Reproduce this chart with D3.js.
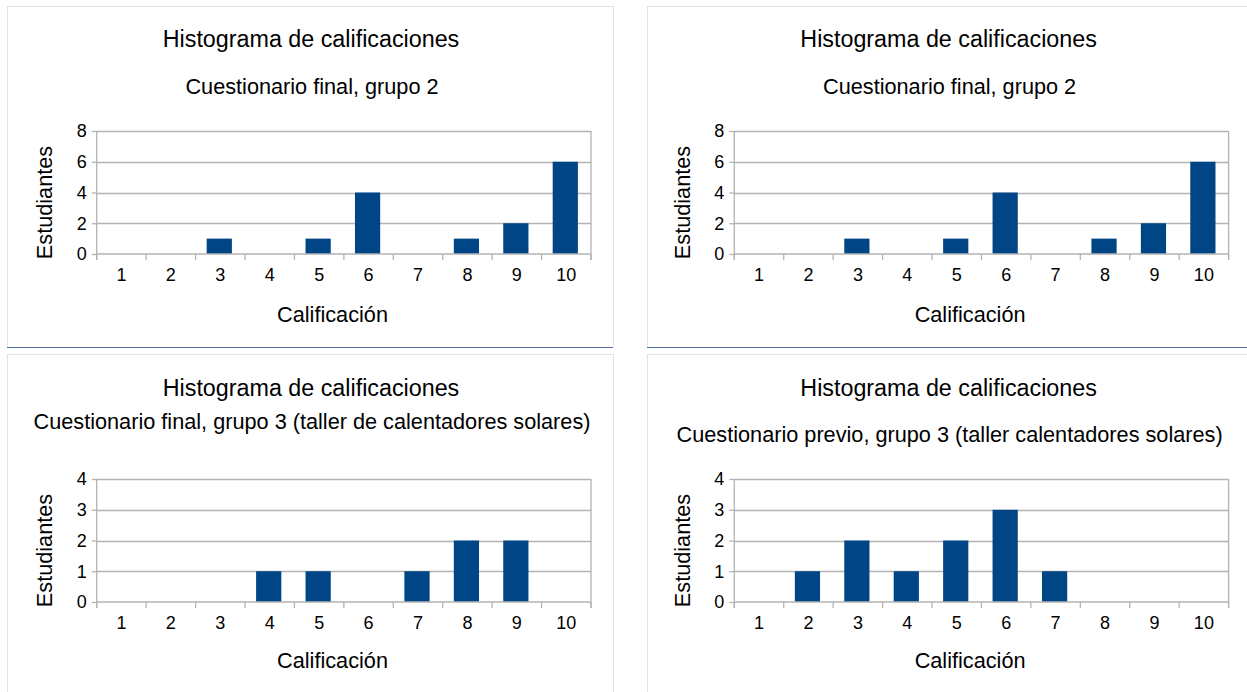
<!DOCTYPE html>
<html>
<head>
<meta charset="utf-8">
<script src="https://cdn.jsdelivr.net/npm/d3@7"></script>
<style>
  html, body { margin: 0; padding: 0; background: #ffffff; }
  svg { display: block; }
  text { font-family: "Liberation Sans", Arial, sans-serif; fill: #000; }
</style>
</head>
<body>
<svg id="chart" width="1247" height="692"></svg>
<script>
// ---- data ----
const categories = ["1","2","3","4","5","6","7","8","9","10"];
const titleText = "Histograma de calificaciones";
const xAxisTitle = "Calificación";
const yAxisTitle = "Estudiantes";

const subtitles = [
  "Cuestionario final, grupo 2",
  "Cuestionario final, grupo 2",
  "Cuestionario final, grupo 3 (taller de calentadores solares)",
  "Cuestionario previo, grupo 3 (taller calentadores solares)"
];

const valuesFinalG2 = [0, 0, 1, 0, 1, 4, 0, 1, 2, 6];
const valuesFinalG3 = [0, 0, 0, 1, 1, 0, 1, 2, 2, 0];
const valuesPrevioG3 = [0, 1, 2, 1, 2, 3, 1, 0, 0, 0];

const yTicksG2 = [0, 2, 4, 6, 8];
const yTicksG3 = [0, 1, 2, 3, 4];

// ---- layout ----
const svg = d3.select("#chart");
const barColor = "#004586";
const gridColor = "#b3b3b3";

const panels = [
  { values: valuesFinalG2, ticks: yTicksG2, sub: subtitles[0], ox: 0,     top: 131, bottom: 254, titleY: 47,  subY: 94,  xtY: 322 },
  { values: valuesFinalG2, ticks: yTicksG2, sub: subtitles[1], ox: 637.6, top: 131, bottom: 254, titleY: 47,  subY: 94,  xtY: 322 },
  { values: valuesFinalG3, ticks: yTicksG3, sub: subtitles[2], ox: 0,     top: 479, bottom: 602, titleY: 396, subY: 429, xtY: 668 },
  { values: valuesPrevioG3, ticks: yTicksG3, sub: subtitles[3], ox: 637.6, top: 479, bottom: 602, titleY: 396, subY: 442, xtY: 668 }
];

// panel frames
const frame = svg.append("g");
const light = "#dfe4ea", blue = "#4d6e9e";
function line(x1, y1, x2, y2, c, w) {
  frame.append("line").attr("x1", x1).attr("y1", y1).attr("x2", x2).attr("y2", y2)
    .attr("stroke", c).attr("stroke-width", w || 1);
}
// top-left
line(7, 6.5, 613, 6.5, light); line(7.5, 6, 7.5, 347, light); line(613.5, 6, 613.5, 347, light);
line(7, 347.5, 613, 347.5, blue);
// top-right
line(647, 6.5, 1247, 6.5, light); line(647.5, 6, 647.5, 347, light);
line(647, 347.5, 1247, 347.5, blue);
// bottom-left
line(7, 354.5, 613, 354.5, light); line(7.5, 354, 7.5, 692, light); line(613.5, 354, 613.5, 692, light);
// bottom-right
line(647, 354.5, 1247, 354.5, light); line(647.5, 354, 647.5, 692, light);

panels.forEach(p => {
  const left = 96.7 + p.ox, right = 591 + p.ox;
  const g = svg.append("g");

  const x = d3.scaleBand().domain(categories).range([left, right]).padding(0);
  const y = d3.scaleLinear().domain([0, d3.max(p.ticks)]).range([p.bottom, p.top]);

  // gridlines
  g.append("g").selectAll("line").data(p.ticks.filter(t => t > 0)).join("line")
    .attr("x1", left).attr("x2", right)
    .attr("y1", d => Math.round(y(d)) + 0.5).attr("y2", d => Math.round(y(d)) + 0.5)
    .attr("stroke", gridColor).attr("stroke-width", 1.3);

  // bars
  const bw = x.bandwidth() * 0.51;
  g.append("g").selectAll("rect").data(p.values.map((v, i) => ({ c: categories[i], v }))).join("rect")
    .attr("x", d => x(d.c) + (x.bandwidth() - bw) / 2 - 1)
    .attr("width", bw)
    .attr("y", d => y(d.v))
    .attr("height", d => y(0) - y(d.v))
    .attr("fill", barColor);

  // y axis
  const yAxis = d3.axisLeft(y).tickValues(p.ticks).tickSize(5).tickPadding(5).tickFormat(d3.format("d"));
  const ya = g.append("g").attr("transform", `translate(${left},0)`).call(yAxis);
  ya.select(".domain").attr("d", `M0,${p.top}V${p.bottom + 6}`).attr("stroke", gridColor).attr("stroke-width", 1.3);
  ya.selectAll(".tick line").attr("stroke", gridColor).attr("stroke-width", 1.3);
  ya.selectAll(".tick text").attr("font-size", 18).attr("fill", "#000")
    .attr("font-family", '"Liberation Sans", Arial, sans-serif');

  // right frame line
  g.append("line").attr("x1", right).attr("x2", right).attr("y1", p.top).attr("y2", p.bottom + 6)
    .attr("stroke", gridColor).attr("stroke-width", 1.3);

  // x axis
  const xAxis = d3.axisBottom(x).tickSize(0).tickPadding(14);
  const xa = g.append("g").attr("transform", `translate(0,${p.bottom})`).call(xAxis);
  xa.select(".domain").attr("stroke", gridColor).attr("stroke-width", 1.3).attr("d", `M${left},0H${right}`);
  xa.selectAll(".tick text").attr("font-size", 18).attr("fill", "#000")
    .attr("font-family", '"Liberation Sans", Arial, sans-serif')
    .attr("dy", null).attr("y", 27);
  // band boundary ticks
  const bounds = categories.map(c => x(c)).concat([right]);
  xa.append("g").selectAll("line").data(bounds).join("line")
    .attr("x1", d => d).attr("x2", d => d).attr("y1", 0).attr("y2", 6)
    .attr("stroke", gridColor).attr("stroke-width", 1.3);

  // titles
  g.append("text").attr("x", 311 + p.ox).attr("y", p.titleY).attr("text-anchor", "middle")
    .attr("font-size", 23.3).text(titleText);
  g.append("text").attr("x", 312 + p.ox).attr("y", p.subY).attr("text-anchor", "middle")
    .attr("font-size", 21.7).text(p.sub);
  g.append("text").attr("x", 332.5 + p.ox).attr("y", p.xtY).attr("text-anchor", "middle")
    .attr("font-size", 21.7).text(xAxisTitle);
  const cy = (p.top + p.bottom) / 2 + 10;
  g.append("text").attr("transform", `translate(${52 + p.ox},${cy}) rotate(-90)`)
    .attr("text-anchor", "middle").attr("font-size", 21.7).text(yAxisTitle);
});
</script>
</body>
</html>
